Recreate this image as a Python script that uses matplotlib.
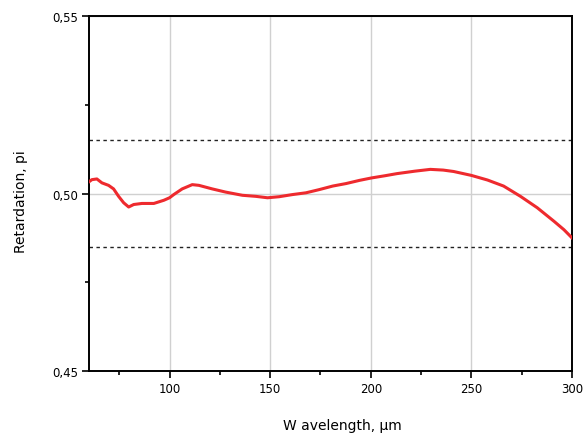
import numpy as np
import matplotlib.pyplot as plt
from matplotlib.ticker import MultipleLocator, FuncFormatter

# Retardation curve
wavelength = [59.3, 61.4, 63.9, 66.4, 69.7, 72.2, 74.7, 77.2, 79.7, 82.2,
              86.3, 92.2, 97.2, 100.0, 102.1, 106.3, 111.3, 114.6, 121.2,
              127.9, 136.2, 142.9, 148.7, 154.5, 161.1, 167.8, 174.4, 181.1,
              187.7, 194.4, 200.5, 207.0, 213.0, 222.0, 229.6, 236.0, 241.2,
              250.0, 258.0, 266.0, 274.4, 282.7, 291.0, 296.0, 300.0]
retardation = [0.5030, 0.5039, 0.5041, 0.5030, 0.5023, 0.5013, 0.4992, 0.4974,
               0.4962, 0.4969, 0.4972, 0.4972, 0.4981, 0.4988, 0.4997, 0.5013,
               0.5025, 0.5023, 0.5013, 0.5004, 0.4995, 0.4992, 0.4988, 0.4991,
               0.4997, 0.5002, 0.5011, 0.5021, 0.5028, 0.5037, 0.5044, 0.5050,
               0.5056, 0.5063, 0.5068, 0.5066, 0.5062, 0.5051, 0.5038, 0.5021,
               0.4992, 0.4960, 0.4922, 0.4898, 0.4875]
limits = [0.515, 0.485]

fig = plt.figure(figsize=(5.88, 4.35), dpi=100)
ax = fig.add_axes([0.1514, 0.1448, 0.8214, 0.8161])

ax.plot(wavelength, retardation, color='#ee2a2e', linewidth=2.2,
        solid_joinstyle='round', zorder=3)
for lim in limits:
    ax.axhline(lim, color='#222222', linewidth=1.0, linestyle=(0, (2.5, 2.5)), zorder=2)

ax.set_xlim(60, 300)
ax.set_ylim(0.45, 0.55)
ax.xaxis.set_major_locator(MultipleLocator(50))
ax.xaxis.set_minor_locator(MultipleLocator(25))
ax.yaxis.set_major_locator(MultipleLocator(0.05))
ax.yaxis.set_minor_locator(MultipleLocator(0.025))
ax.yaxis.set_major_formatter(FuncFormatter(lambda v, p: f"{v:.2f}".replace('.', ',')))

ax.grid(True, which='major', color='#d0d0d0', linewidth=1.0, zorder=1)
ax.tick_params(which='major', direction='out', length=5, width=1.2, labelsize=8.5, pad=3)
ax.tick_params(which='minor', direction='out', length=3, width=1.2)
for s in ax.spines.values():
    s.set_linewidth(1.4)
    s.set_color('black')

ax.set_xlabel('W avelength, µm', fontsize=10)
ax.set_ylabel('Retardation, pi', fontsize=10)
ax.xaxis.set_label_coords(0.524, -0.132)
ax.yaxis.set_label_coords(-0.126, 0.48)

plt.savefig('out.png', dpi=100)
